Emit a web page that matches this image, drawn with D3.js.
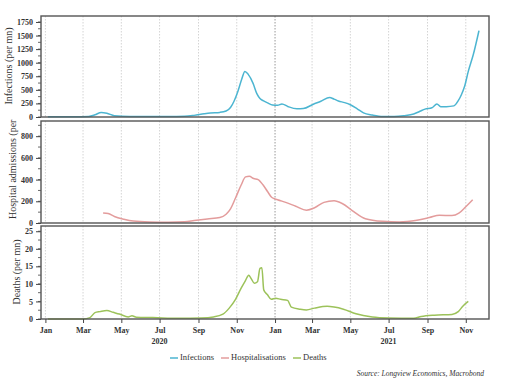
<!DOCTYPE html>
<html>
<head>
<meta charset="utf-8">
<script src="https://cdn.jsdelivr.net/npm/d3@7"></script>
<style>
  body { margin: 0; background: #fff; }
  svg { display: block; }
  svg text { font-family: "Liberation Serif", serif; }
</style>
</head>
<body>
<div id="chart"></div>
<script>
// dates as yyyy-mm-dd, values per million
const infDates = ["2020-01-05","2020-02-15","2020-03-10","2020-03-20","2020-03-30","2020-04-08","2020-04-20","2020-05-15","2020-06-15","2020-07-15","2020-08-10","2020-08-25","2020-09-10","2020-09-20","2020-10-05","2020-10-15","2020-10-22","2020-10-28","2020-11-03","2020-11-09","2020-11-14","2020-11-19","2020-11-27","2020-12-03","2020-12-08","2020-12-13","2020-12-20","2020-12-28","2021-01-05","2021-01-12","2021-01-22","2021-02-05","2021-02-15","2021-03-03","2021-03-15","2021-03-29","2021-04-05","2021-04-12","2021-04-22","2021-05-01","2021-05-12","2021-05-22","2021-06-05","2021-06-22","2021-07-10","2021-07-25","2021-08-10","2021-08-20","2021-08-28","2021-09-08","2021-09-16","2021-09-22","2021-10-01","2021-10-13","2021-10-20","2021-10-25","2021-10-30","2021-11-05","2021-11-13","2021-11-22"];
const infValues = [5,5,10,40,85,70,25,10,8,8,12,30,60,75,85,110,175,300,480,700,840,790,620,430,340,300,260,220,215,240,190,150,155,235,290,360,330,295,265,225,150,75,35,8,10,25,55,105,145,170,240,190,190,205,300,410,560,840,1150,1590];

const hospDates = ["2020-04-02","2020-04-10","2020-04-20","2020-05-05","2020-05-20","2020-06-15","2020-07-15","2020-08-10","2020-08-25","2020-09-15","2020-10-05","2020-10-15","2020-10-22","2020-10-30","2020-11-08","2020-11-15","2020-11-21","2020-11-28","2020-12-05","2020-12-13","2020-12-20","2020-12-27","2021-01-05","2021-01-18","2021-02-03","2021-02-20","2021-03-05","2021-03-20","2021-04-05","2021-04-18","2021-05-04","2021-05-25","2021-06-22","2021-07-18","2021-08-15","2021-09-04","2021-09-20","2021-10-10","2021-10-21","2021-11-01","2021-11-12"];
const hospValues = [93,88,60,35,18,10,8,12,22,37,50,80,130,230,350,425,430,410,400,350,290,235,215,190,155,118,140,190,205,180,115,40,15,9,25,50,72,68,90,150,215];

const deathDates = ["2020-01-05","2020-03-01","2020-03-12","2020-03-20","2020-03-28","2020-04-08","2020-04-18","2020-04-28","2020-05-12","2020-05-18","2020-05-25","2020-06-20","2020-08-01","2020-09-05","2020-09-25","2020-10-10","2020-10-20","2020-10-30","2020-11-08","2020-11-15","2020-11-20","2020-11-24","2020-11-29","2020-12-04","2020-12-08","2020-12-11","2020-12-14","2020-12-20","2020-12-26","2021-01-02","2021-01-10","2021-01-21","2021-01-27","2021-02-10","2021-02-20","2021-03-05","2021-03-25","2021-04-05","2021-04-20","2021-05-10","2021-06-05","2021-07-01","2021-08-10","2021-08-22","2021-09-12","2021-10-10","2021-10-20","2021-10-28","2021-11-05"];
const deathValues = [0,0,0.4,1.8,2.1,2.4,1.9,1.4,0.6,0.9,0.5,0.4,0.2,0.3,0.6,1.4,3.1,5.6,8.8,11,12.5,11.5,10.2,10.6,14.4,14.6,8.3,6.9,5.6,5.9,5.6,5.3,3.4,2.8,2.6,3.1,3.6,3.4,2.8,1.5,0.6,0.3,0.2,0.7,1.1,1.3,2.1,3.8,5.0];

const monthTicks = ["2020-01-01","2020-03-01","2020-05-01","2020-07-01","2020-09-01","2020-11-01","2021-01-01","2021-03-01","2021-05-01","2021-07-01","2021-09-01","2021-11-01"];
const yearLabels = [["2020", "2020-07-01"], ["2021", "2021-07-01"]];

const infTicks = [0, 250, 500, 750, 1000, 1250, 1500, 1750];
const hospTicks = [0, 200, 400, 600, 800];
const deathTicks = [0, 5, 10, 15, 20, 25];

const parse = d3.timeParse("%Y-%m-%d");
const font = "Liberation Serif";
const W = 511, H = 391;
const left = 41, right = 489;

const svg = d3.select("#chart").append("svg")
  .attr("width", W).attr("height", H)
  .attr("font-family", font);

const x = d3.scaleTime()
  .domain([parse("2019-12-25"), parse("2021-12-08")])
  .range([left, right]);

const panels = [
  { top: 16, bottom: 117, max: 1860, ticks: infTicks, minor: 125, dates: infDates, values: infValues, color: "#4cb5d1", label: "Infections (per mn)", lx: 10, ly: 66, anchor: "middle" },
  { top: 121, bottom: 223, max: 940, ticks: hospTicks, minor: 100, dates: hospDates, values: hospValues, color: "#e39c9c", label: "Hospital admissions (per", lx: 14, ly: 219, anchor: "start" },
  { top: 226, bottom: 319, max: 26.5, ticks: deathTicks, minor: 2.5, dates: deathDates, values: deathValues, color: "#9cc25a", label: "Deaths (per mn)", lx: 18, ly: 272, anchor: "middle" }
];

panels.forEach((p, i) => {
  const y = d3.scaleLinear().domain([0, p.max]).range([p.bottom, p.top]);
  const g = svg.append("g");

  // grid lines
  g.selectAll("line.grid")
    .data(monthTicks)
    .join("line")
    .attr("x1", d => x(parse(d))).attr("x2", d => x(parse(d)))
    .attr("y1", p.top).attr("y2", p.bottom)
    .attr("stroke", d => d === "2021-01-01" ? "#999" : "#d4d4d4")
    .attr("stroke-width", 1)
    .attr("stroke-dasharray", "1.5,1.5");

  // minor ticks
  g.selectAll("line.minor")
    .data(d3.range(0, p.max + 0.001, p.minor))
    .join("line")
    .attr("x1", left - 3).attr("x2", left)
    .attr("y1", d => y(d)).attr("y2", d => y(d))
    .attr("stroke", "#444").attr("stroke-width", 0.8);

  const axis = g.append("g")
    .attr("transform", `translate(${left},0)`)
    .call(d3.axisLeft(y).tickValues(p.ticks).tickFormat(d3.format("d")).tickSize(5).tickPadding(3));
  axis.attr("font-family", font);
  axis.select(".domain").remove();
  axis.selectAll("line").attr("stroke", "#444");
  axis.selectAll("text")
    .style("font-size", "8px")
    .style("font-weight", "bold")
    .attr("fill", "#333");

  const line = d3.line()
    .x((d, j) => x(parse(p.dates[j])))
    .y(d => y(d))
    .curve(d3.curveMonotoneX);

  g.append("path")
    .datum(p.values)
    .attr("fill", "none")
    .attr("stroke", p.color)
    .attr("stroke-width", 1.5)
    .attr("d", line);

  g.append("rect")
    .attr("x", left).attr("y", p.top)
    .attr("width", right - left).attr("height", p.bottom - p.top)
    .attr("fill", "none")
    .attr("stroke", "#555")
    .attr("stroke-width", 1.4);

  svg.append("text")
    .attr("transform", `translate(${p.lx},${p.ly}) rotate(-90)`)
    .attr("text-anchor", p.anchor)
    .attr("dominant-baseline", "middle")
    .style("font-size", "10px")
    .attr("fill", "#333")
    .text(p.label);
});

// x axis
const xAxis = svg.append("g")
  .attr("transform", "translate(0,319)")
  .call(d3.axisBottom(x)
    .tickValues(monthTicks.map(parse))
    .tickFormat(d3.timeFormat("%b"))
    .tickSize(4).tickPadding(4));
xAxis.attr("font-family", font);
xAxis.select(".domain").remove();
xAxis.selectAll("line").attr("stroke", "#444");
xAxis.selectAll("text")
  .style("font-size", "8px")
  .style("font-weight", "bold")
  .attr("fill", "#333");

svg.selectAll("text.year")
  .data(yearLabels)
  .join("text")
  .attr("x", d => x(parse(d[1])))
  .attr("y", 344)
  .attr("text-anchor", "middle")
  .style("font-size", "8px")
  .style("font-weight", "bold")
  .attr("fill", "#333")
  .text(d => d[0]);

// legend
const legendItems = [
  { name: "Infections", color: panels[0].color, x: 170 },
  { name: "Hospitalisations", color: panels[1].color, x: 221 },
  { name: "Deaths", color: panels[2].color, x: 293 }
];
const legend = svg.append("g").attr("transform", "translate(0,358)");
legend.selectAll("line")
  .data(legendItems)
  .join("line")
  .attr("x1", d => d.x).attr("x2", d => d.x + 8)
  .attr("y1", 0).attr("y2", 0)
  .attr("stroke", d => d.color)
  .attr("stroke-width", 1.5);
legend.selectAll("text")
  .data(legendItems)
  .join("text")
  .attr("x", d => d.x + 10)
  .attr("y", 0)
  .attr("dominant-baseline", "middle")
  .style("font-size", "8.5px")
  .attr("fill", "#333")
  .text(d => d.name);

svg.append("text")
  .attr("x", 484).attr("y", 376)
  .attr("text-anchor", "end")
  .style("font-size", "7.5px")
  .style("font-style", "italic")
  .attr("fill", "#333")
  .text("Source: Longview Economics, Macrobond");
</script>
</body>
</html>
